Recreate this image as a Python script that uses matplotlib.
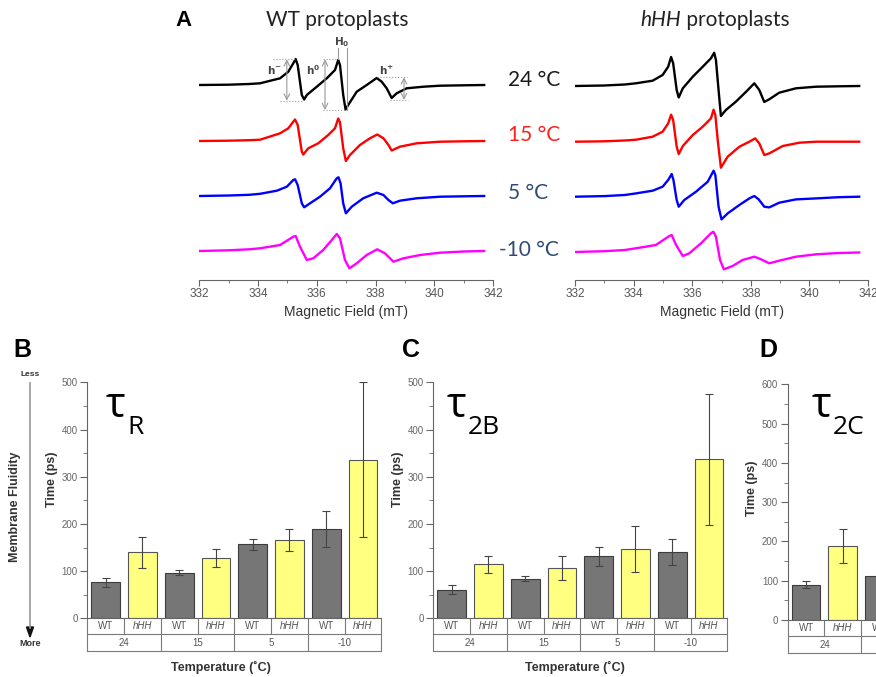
import numpy as np
import matplotlib
matplotlib.use("Agg")
import matplotlib.pyplot as plt
from matplotlib.ticker import MultipleLocator

plt.rcParams['font.family'] = ['Liberation Sans', 'DejaVu Sans']

# ---- EPR spectra (field in mT, amplitude in arbitrary units) ----
wt24_field = [332.0, 333.0, 333.7, 334.07, 334.75, 335.03, 335.2, 335.28, 335.35, 335.49, 335.57, 335.66,
              336.0, 336.34, 336.62, 336.73, 336.79, 336.9, 336.98, 337.07, 337.36, 337.7, 338.04, 338.21,
              338.38, 338.55, 338.72, 339.06, 339.63, 340.2, 341.0, 341.7]
wt24_amp = [0, 0.3, 1, 1.7, 6.7, 13.3, 21.7, 26, 20, -10, -14.5, -10, -1.7, 6.7, 15, 25, 20, -10, -24.5,
            -20, -6.7, 0, 7, 3.3, -3.3, -13, -8.3, -3.3, -1.7, -0.7, -0.3, 0]

wt15_field = [332.0, 333.0, 333.7, 334.07, 334.75, 335.03, 335.2, 335.26, 335.35, 335.49, 335.54, 335.71,
              336.05, 336.39, 336.62, 336.73, 336.79, 336.9, 336.99, 337.13, 337.47, 337.81, 338.06, 338.27,
              338.44, 338.55, 338.83, 339.4, 340.2, 341.0, 341.7]
wt15_amp = [0, 0.3, 0.8, 1.3, 7.7, 12.7, 19.3, 21.5, 16, -10.7, -13.5, -7.3, -2.3, 6, 12.7, 22.5, 18.7,
            -7.3, -20, -14, -4, 2.7, 6.5, 2.7, -4, -9.5, -5.7, -2.3, -0.7, -0.3, 0]

wt5_field = [332.0, 333.0, 333.7, 334.07, 334.64, 334.98, 335.2, 335.26, 335.35, 335.49, 335.57, 335.77,
             336.11, 336.45, 336.68, 336.74, 336.81, 336.9, 336.99, 337.19, 337.58, 338.04, 338.27, 338.44,
             338.59, 338.83, 339.4, 340.2, 341.0, 341.7]
wt5_amp = [0, 0.5, 1.2, 2.2, 5.3, 9.3, 16, 16.7, 11, -7.3, -11.3, -7.3, -0.7, 7.7, 17.7, 18.7, 12.7, -7.3,
           -17.3, -10.7, -2.3, 3.3, 1, -4, -7.3, -4.7, -2.3, -0.7, -0.3, 0]

wtm10_field = [332.0, 333.0, 333.7, 334.07, 334.75, 335.2, 335.28, 335.43, 335.66, 335.88, 336.22, 336.51,
               336.68, 336.79, 336.96, 337.11, 337.36, 337.7, 338.06, 338.32, 338.61, 338.95, 339.52, 340.2,
               341.0, 341.7]
wtm10_amp = [0, 0.7, 1.7, 2.7, 6, 14.3, 15, 4.3, -9, -7.3, 1, 11, 17, 12.7, -9, -17.3, -12.3, -4, 1.7,
             -2.3, -10.7, -7.3, -4, -1.7, -0.5, 0]

hhh24_field = [332.0, 333.0, 333.7, 334.08, 334.65, 334.99, 335.18, 335.28, 335.35, 335.47, 335.54, 335.68,
               336.02, 336.36, 336.64, 336.75, 336.81, 336.9, 336.98, 337.15, 337.49, 337.84, 338.12, 338.29,
               338.46, 338.63, 338.97, 339.54, 340.23, 341.0, 341.7]
hhh24_amp = [0, 0.5, 1.5, 2.7, 5.3, 11, 19.3, 29, 22.7, -4, -11.5, -2.3, 9.3, 19.3, 27.7, 33.3, 26, -4,
             -30, -24, -15.7, -5.7, 2.7, -4, -16, -13.3, -6.7, -2.3, -0.7, -0.3, 0]

hhh15_field = [332.0, 333.0, 333.7, 334.08, 334.65, 334.99, 335.18, 335.28, 335.35, 335.47, 335.54, 335.68,
               336.02, 336.36, 336.64, 336.73, 336.79, 336.87, 336.98, 337.21, 337.61, 337.95, 338.15, 338.29,
               338.46, 338.63, 339.09, 339.66, 340.23, 341.0, 341.7]
hhh15_amp = [0, 0.4, 1.2, 2, 5, 10, 18.3, 27, 21.7, -5, -12.3, -4.3, 6.7, 15, 23.3, 32, 26.7, 1.7, -26,
             -15, -5, 0, 3.3, -1.7, -13.3, -11.7, -4.3, -1, 0, 0, 0]

hhh5_field = [332.0, 333.0, 333.7, 334.08, 334.65, 334.99, 335.18, 335.3, 335.36, 335.47, 335.54, 335.73,
              336.13, 336.53, 336.73, 336.79, 336.9, 337.0, 337.21, 337.61, 337.95, 338.12, 338.27, 338.46,
              338.63, 338.97, 339.54, 340.23, 341.0, 341.7]
hhh5_amp = [0, 0.6, 1.7, 3.3, 6, 10, 16.7, 22.7, 16.7, -3.3, -10, -3.3, 5, 15, 26, 21.7, -10, -22.7,
            -16.7, -8.3, -1.7, 0.7, -2.7, -10, -10.7, -6, -2.7, -1.7, -0.5, 0]

hhhm10_field = [332.0, 333.0, 333.7, 334.08, 334.76, 335.22, 335.3, 335.45, 335.68, 335.9, 336.3, 336.64,
                336.72, 336.81, 336.95, 337.08, 337.38, 337.72, 338.12, 338.35, 338.63, 338.97, 339.54,
                340.23, 341.0, 341.7]
hhhm10_amp = [0, 0.8, 2, 3.7, 7, 16, 17, 7, -4, -1.3, 8.7, 18.7, 20.3, 15.3, -8, -17.3, -14, -8, -4.7,
              -7.3, -11.3, -8.7, -4.7, -2.3, -1, -0.5]

temp_labels = ['24 °C', '15 °C', '5 °C', '-10 °C']

# ---- rotational correlation times (ps) ----
temps = ['24', '15', '5', '-10']
genotypes = ['WT', 'hHH']
tau_r_wt = [76, 97, 157, 190]
tau_r_wt_err = [9, 6, 12, 38]
tau_r_hhh = [140, 127, 166, 336]
tau_r_hhh_err = [33, 19, 24, 164]
tau_2b_wt = [61, 84, 131, 140]
tau_2b_wt_err = [10, 6, 20, 28]
tau_2b_hhh = [114, 107, 147, 337]
tau_2b_hhh_err = [17, 26, 49, 139]
tau_2c_wt = [90, 111]
tau_2c_wt_err = [9, 10]
tau_2c_hhh = [188]
tau_2c_hhh_err = [44]

W, H = 876, 677
fig = plt.figure(figsize=(W / 100, H / 100), dpi=100)


def px_rect(l, t, r, b):
    return [l / W, 1 - b / H, (r - l) / W, (b - t) / H]


trace_colors = ['black', '#ff0000', '#0000ff', '#ff00ff']
label_colors = ['#1a1a1a', '#ff2020', '#2f4a78', '#2f4a78']


def spectra_axes(left, right, traces, offsets):
    ax = fig.add_axes(px_rect(left, 35, right, 280))
    for (fld, amp), off, c in zip(traces, offsets, trace_colors):
        ax.plot(fld, np.array(amp) + off, color=c, lw=1.7, solid_joinstyle='round')
    ax.set_xlim(332, 342)
    ax.set_ylim(0, 245)
    for s in ['left', 'right', 'top']:
        ax.spines[s].set_visible(False)
    ax.spines['bottom'].set_color('#666')
    ax.set_yticks([])
    ax.xaxis.set_major_locator(MultipleLocator(2))
    ax.xaxis.set_minor_locator(MultipleLocator(1))
    ax.tick_params(axis='x', which='major', direction='out', length=4, color='#666',
                   labelsize=8.5, labelcolor='#555', pad=2)
    ax.tick_params(axis='x', which='minor', direction='out', length=2, color='#666')
    ax.set_xlabel('Magnetic Field (mT)', fontsize=10, color='#333', labelpad=3)
    ax.patch.set_visible(False)
    return ax


axL = spectra_axes(199.3, 493, [(wt24_field, wt24_amp), (wt15_field, wt15_amp),
                                (wt5_field, wt5_amp), (wtm10_field, wtm10_amp)],
                   [195, 139, 84, 29])
axR = spectra_axes(575, 868, [(hhh24_field, hhh24_amp), (hhh15_field, hhh15_amp),
                              (hhh5_field, hhh5_amp), (hhhm10_field, hhhm10_amp)],
                   [194, 138.3, 83.3, 28])

# peak-height annotations on the WT 24 °C trace
ann = dict(color='#999', lw=0.8, ls=':')
axL.plot([334.51, 335.26], [220.7, 220.7], **ann)
axL.plot([334.75, 335.53], [179.3, 179.3], **ann)
axL.plot([336.21, 336.72], [220.7, 220.7], **ann)
axL.plot([336.21, 336.96], [170, 170], **ann)
axL.plot([338.04, 339.06], [202.7, 202.7], **ann)
axL.plot([338.49, 339.1], [180, 180], **ann)
axL.plot([336.73, 336.73], [221, 232], color='#999', lw=0.8)
axL.plot([337.03, 337.03], [170, 232], color='#999', lw=0.8)
for xa, y0, y1 in [(334.98, 179.3, 220.7), (336.28, 170, 220.7), (338.97, 180, 202.7)]:
    axL.annotate('', xy=(xa, y0), xytext=(xa, y1),
                 arrowprops=dict(arrowstyle='<->', color='#999', lw=0.8, shrinkA=0, shrinkB=0))
axL.text(334.54, 210, r'$\mathbf{h^{-}}$', fontsize=7.5, color='#444', ha='center', va='center')
axL.text(335.87, 210, r'$\mathbf{h^{0}}$', fontsize=7.5, color='#444', ha='center', va='center')
axL.text(338.38, 210, r'$\mathbf{h^{+}}$', fontsize=7.5, color='#444', ha='center', va='center')
axL.text(336.85, 238, r'$\mathbf{H_0}$', fontsize=7.5, color='#444', ha='center', va='center')


def bar_panel(left, top, bottom, ymax, wt, wt_err, hhh, hhh_err):
    right = left + 294
    ax = fig.add_axes(px_rect(left, top, right, bottom))
    xw = np.arange(len(wt)) * 2
    xh = np.arange(len(hhh)) * 2 + 1
    eb = dict(ecolor='#444', elinewidth=0.8, capsize=3, capthick=0.8)
    ax.bar(xw, wt, width=0.78, color='#767676', edgecolor='#3c3c3c', lw=0.8,
           yerr=wt_err, error_kw=eb)
    ax.bar(xh, hhh, width=0.78, color='#ffff80', edgecolor='#555', lw=0.8,
           yerr=hhh_err, error_kw=eb)
    ax.set_xlim(-0.5, 7.5)
    ax.set_ylim(0, ymax)
    ax.set_xticks([])
    for s in ['right', 'top']:
        ax.spines[s].set_visible(False)
    for s in ['left', 'bottom']:
        ax.spines[s].set_color('#666')
        ax.spines[s].set_linewidth(0.8)
    ax.yaxis.set_major_locator(MultipleLocator(100))
    ax.yaxis.set_minor_locator(MultipleLocator(50))
    ax.tick_params(axis='y', which='major', direction='out', length=5, color='#666',
                   labelsize=7, labelcolor='#666', pad=2)
    ax.tick_params(axis='y', which='minor', direction='out', length=3, color='#666')

    # category table under the bars
    h_px = bottom - top
    r1 = -16 / h_px
    r2 = -33 / h_px
    tr = ax.get_xaxis_transform()
    lc = dict(color='#7a7a7a', lw=0.8, transform=tr, clip_on=False)
    ax.plot([-0.5, 7.5], [r1, r1], **lc)
    ax.plot([-0.5, 7.5], [r2, r2], **lc)
    for k in range(9):
        ax.plot([k - 0.5, k - 0.5], [0, r2 if k % 2 == 0 else r1], **lc)
    for k in range(8):
        ax.text(k, r1 / 2, genotypes[k % 2], transform=tr, ha='center', va='center',
                fontsize=7, color='#555', style='italic' if k % 2 else 'normal', clip_on=False)
    for i, t in enumerate(temps):
        ax.text(2 * i + 0.5, (r1 + r2) / 2, t, transform=tr, ha='center', va='center',
                fontsize=7, color='#555', clip_on=False)
    ax.patch.set_visible(False)
    return ax


axB = bar_panel(87.3, 382.3, 618.3, 500, tau_r_wt, tau_r_wt_err, tau_r_hhh, tau_r_hhh_err)
axC = bar_panel(433.3, 382.3, 618.3, 500, tau_2b_wt, tau_2b_wt_err, tau_2b_hhh, tau_2b_hhh_err)
axD = bar_panel(787.7, 384.3, 620, 600, tau_2c_wt, tau_2c_wt_err, tau_2c_hhh, tau_2c_hhh_err)

# overlay in pixel coordinates for labels
ov = fig.add_axes([0, 0, 1, 1], zorder=10)
ov.set_xlim(0, W)
ov.set_ylim(H, 0)
ov.axis('off')

cal = ['Lato', 'DejaVu Sans']
ov.text(183, 20, 'A', fontsize=16, fontweight='bold', ha='center', va='center')
ov.text(337, 20, 'WT protoplasts', fontsize=15, family=cal, color='#222', ha='center', va='center')
t1 = ov.text(640, 20, 'hHH', fontsize=15, family=cal, style='italic', color='#222',
             ha='left', va='center')
ov.annotate(' protoplasts', xy=(1, 0), xycoords=t1, fontsize=15, family=cal, color='#222',
            ha='left', va='bottom')
for lab, c, xc, yc in zip(temp_labels, label_colors, [534, 534, 528, 529], [80, 135, 193, 250]):
    ov.text(xc, yc, lab, fontsize=15, family=cal, color=c, ha='center', va='center')

for letter, xc in [('B', 22), ('C', 411), ('D', 768)]:
    ov.text(xc, 350, letter, fontsize=18, fontweight='bold', ha='center', va='center')

tau = ['Open Sans', 'DejaVu Sans']
for x0, sub in [(106, 'R'), (447, '2B'), (812, '2C')]:
    ov.text(x0, 417, 'τ', fontsize=30, family=tau, color='black', ha='left', va='baseline')
    ov.text(x0 + 21, 434, sub, fontsize=19, family=tau, color='black', ha='left', va='baseline')

for xc, yc in [(52, 479), (398, 479), (752, 488)]:
    ov.text(xc, yc, 'Time (ps)', rotation=90, fontsize=9, fontweight='bold', color='#333',
            ha='center', va='center')
for xc in [221, 575]:
    ov.text(xc, 667, 'Temperature (˚C)', fontsize=9, fontweight='bold', color='#333',
            ha='center', va='center')

# membrane fluidity arrow
ov.plot([30, 30], [383, 628], color='#999', lw=1.2)
ov.fill([26.5, 33.5, 30], [627, 627, 637], color='#111')
ov.text(30, 374, 'Less', fontsize=6, fontweight='bold', color='#333', ha='center', va='center')
ov.text(30, 644, 'More', fontsize=6.5, fontweight='bold', color='#333', ha='center', va='center')
ov.text(15, 507, 'Membrane Fluidity', rotation=90, fontsize=9, fontweight='bold', color='#333',
        ha='center', va='center')

fig.savefig('out.png', dpi=100)
